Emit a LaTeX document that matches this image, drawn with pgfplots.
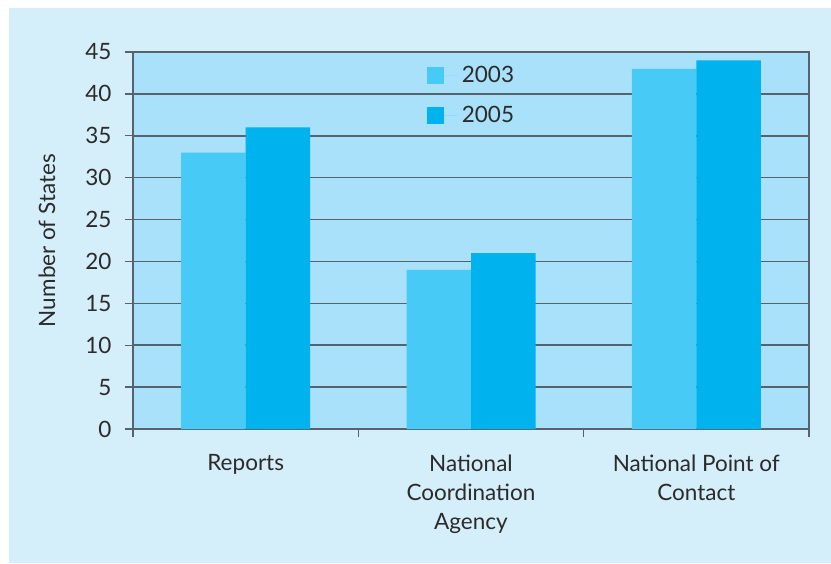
\documentclass[border=0pt]{standalone}
\usepackage{pgfplots}
\pgfplotsset{compat=1.18}
\usepackage{fontspec}
\setmainfont{Lato}

\definecolor{outerbg}{HTML}{D4EEFA}
\definecolor{plotbg}{HTML}{A8E1F9}
\definecolor{cOld}{HTML}{47CAF6}
\definecolor{cNew}{HTML}{00B3EF}
\definecolor{gridc}{HTML}{56636D}
\definecolor{txt}{HTML}{2B2B2B}

\begin{document}
\begin{tikzpicture}[x=1pt,y=1pt]
\useasboundingbox (0,0) rectangle (831,563);
\fill[white] (0,0) rectangle (831,563);
\fill[outerbg] (9,0) rectangle (831,555);
\begin{axis}[
    at={(133pt,134pt)}, anchor=south west,
    scale only axis,
    width=676pt, height=377pt,
    axis background/.style={fill=plotbg},
    ybar=0pt,
    bar width=64.5pt,
    xmin=-0.5, xmax=2.5,
    ymin=0, ymax=45,
    xtick={0,1,2},
    xticklabels={Reports, National\\Coordination\\Agency, National Point of\\Contact},
    minor xtick={-0.5,0.5,1.5,2.5},
    ytick={0,5,...,45},
    ymajorgrids=true,
    grid style={gridc, line width=1.6pt},
    axis line style={gridc, line width=1.3pt},
    tick style={gridc, line width=1.3pt},
    major tick length=8pt,
    minor tick length=8pt,
    tick align=outside,
    major x tick style={draw=none},
    xtick pos=bottom, ytick pos=left,
    /pgf/number format/assume math mode=true,
    tick label style={font=\fontsize{22.5}{29}\selectfont, text=txt},
    xticklabel style={align=center, yshift=-14pt},
    yticklabel style={xshift=-10pt},
    ylabel={Number of States},
    every axis y label/.style={at={(axis description cs:0,0.5)}, xshift=-86pt,
        rotate=90, anchor=center, font=\fontsize{22.5}{24}\selectfont, text=txt},
    legend style={draw=none, fill=none, at={(0.43,0.97)}, anchor=north west,
        font=\fontsize{22.5}{24}\selectfont, text=txt,
        row sep=20pt, column sep=4pt,
        nodes={inner sep=1pt}},
    legend cell align=left,
    legend image code/.code={\fill[#1] (0pt,-8.5pt) rectangle (17pt,8.5pt);
        \path (17pt,0) -- (30pt,0);},
]
\addplot[fill=cOld, draw=none] coordinates {(0,33) (1,19) (2,43)};
\addplot[fill=cNew, draw=none] coordinates {(0,36) (1,21) (2,44)};
\legend{2003, 2005}
\end{axis}
\end{tikzpicture}
\end{document}
